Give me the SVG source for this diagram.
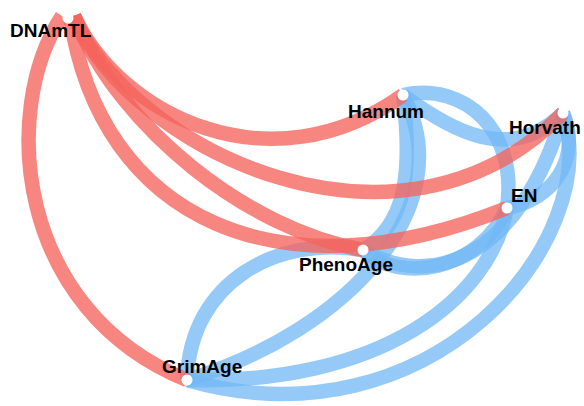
<svg xmlns="http://www.w3.org/2000/svg" width="584" height="406" viewBox="0 0 584 406">
<style>
.e{fill:none;stroke-linecap:butt;stroke-width:14.5}
.b{stroke:#72B8F5;stroke-opacity:0.75}
.r{stroke:#F5645C;stroke-opacity:0.78}
.n{fill:#FFFFFF}
.t{font-family:"Liberation Sans",Arial,sans-serif;font-weight:bold;font-size:19px;fill:#000}
</style>
<rect width="584" height="406" fill="#FFFFFF"/>
<g id="connectors">
<path class="e b" d="M403,95 C465,82 518,130 507,208"/>
<path class="e b" d="M403,95 C450,130 510,165 563,113"/>
<path class="e b" d="M403,95 C413,175 405,225 363,250"/>
<path class="e b" d="M403,95 C462,205 350,330 187,380"/>
<path class="e b" d="M363,250 C280,235 190,280 187,380"/>
<path class="e b" d="M363,250 C400,285 480,270 507,208"/>
<path class="e b" d="M363,250 C430,290 520,260 563,113"/>
<path class="e b" d="M563,113 C605,240 430,450 187,380"/>
<path class="e b" d="M507,208 C490,300 380,385 187,380"/>
<path class="e b" d="M563,113 C582,160 552,200 507,208"/>
<path class="e r" d="M62,16 C0,110 15,310 187,380"/>
<path class="e r" d="M70,16 C100,220 280,300 507,208"/>
<path class="e r" d="M74,16 C120,130 250,230 363,250"/>
<path class="e r" d="M74,16 C130,150 400,280 563,113"/>
<path class="e r" d="M74,16 C120,115 270,190 403,95"/>
</g>
<g id="DNAmTL"><circle class="n" cx="68" cy="18" r="5.5"/><text class="t" x="10" y="37">DNAmTL</text></g>
<g id="Hannum"><circle class="n" cx="403" cy="95" r="5.5"/><text class="t" x="348" y="118">Hannum</text></g>
<g id="Horvath"><circle class="n" cx="563" cy="113" r="5.5"/><text class="t" x="509" y="134">Horvath</text></g>
<g id="EN"><circle class="n" cx="507" cy="208" r="5.5"/><text class="t" x="511" y="202">EN</text></g>
<g id="PhenoAge"><circle class="n" cx="363" cy="250" r="5.5"/><text class="t" x="299" y="271">PhenoAge</text></g>
<g id="GrimAge"><circle class="n" cx="187" cy="380" r="5.5"/><text class="t" x="162" y="373">GrimAge</text></g>
</svg>
